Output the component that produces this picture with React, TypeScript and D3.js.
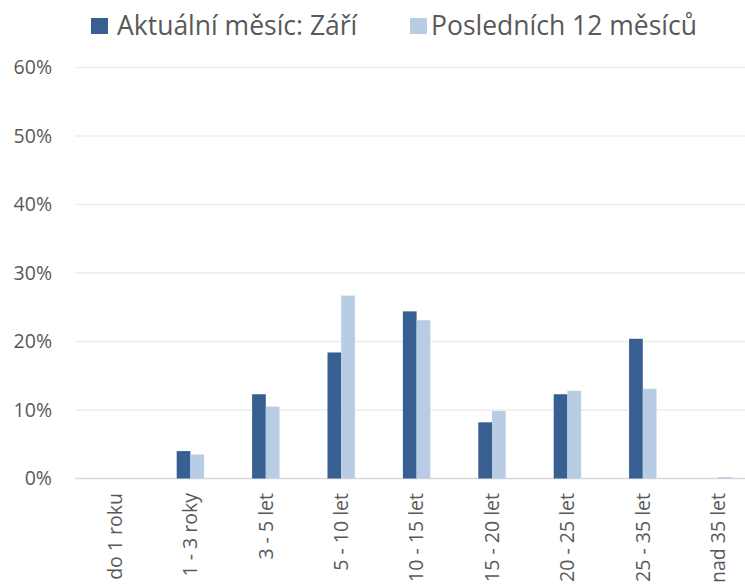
import React from "react";
import * as d3 from "d3";

// věkové kategorie a podíly
const categories = [
  "do 1 roku",
  "1 - 3 roky",
  "3 - 5 let",
  "5 - 10 let",
  "10 - 15 let",
  "15 - 20 let",
  "20 - 25 let",
  "25 - 35 let",
  "nad 35 let",
];
const seriesNames = ["Aktuální měsíc: Září", "Posledních 12 měsíců"];
const currentMonth = [0, 0.04, 0.123, 0.184, 0.244, 0.082, 0.123, 0.204, 0];
const last12Months = [0, 0.035, 0.105, 0.267, 0.231, 0.0985, 0.128, 0.131, 0.002];
const yTicks = [0, 0.1, 0.2, 0.3, 0.4, 0.5, 0.6];

const colors = ["#375f91", "#b8cce4"];
const textColor = "#595959";
const font = "'Open Sans', sans-serif";

const W = 745;
const H = 585;
const margin = { top: 67.5, left: 75, bottom: 106.5 };

const App = () => {
  const x = d3
    .scaleBand<string>()
    .domain(categories)
    .range([77.3, 755.9])
    .paddingInner(0)
    .paddingOuter(0);

  const inner = d3
    .scaleBand<number>()
    .domain([0, 1])
    .range([-13.7, 13.7]);

  const y = d3
    .scaleLinear()
    .domain([0, 0.6])
    .range([H - margin.bottom, margin.top]);

  const fmt = d3.format(".0%");
  const series = [currentMonth, last12Months];

  return (
    <svg
      width={W}
      height={H}
      style={{ position: "absolute", left: 0, top: 0, background: "#fff" }}
      fontFamily={font}
    >
      {/* mřížka a popisky osy y */}
      {yTicks.map((t) => (
        <g key={t}>
          <line
            x1={margin.left}
            x2={W}
            y1={y(t)}
            y2={y(t)}
            stroke={t === 0 ? "#d9d9d9" : "#ececec"}
            strokeWidth={t === 0 ? 1.5 : 1.3}
          />
          <text
            x={52}
            y={y(t)}
            dy="0.35em"
            textAnchor="end"
            fontSize={19.5}
            fill={textColor}
          >
            {fmt(t)}
          </text>
        </g>
      ))}

      {/* sloupce */}
      {categories.map((c, i) => {
        const cx = (x(c) ?? 0) + x.bandwidth() / 2;
        return (
          <g key={c} transform={`translate(${cx},0)`}>
            {series.map((s, k) => (
              <rect
                key={k}
                x={inner(k)}
                y={y(s[i])}
                width={inner.bandwidth()}
                height={y(0) - y(s[i])}
                fill={colors[k]}
              />
            ))}
          </g>
        );
      })}

      {/* popisky kategorií */}
      {categories.map((c) => {
        const cx = (x(c) ?? 0) + x.bandwidth() / 2;
        return (
          <text
            key={c}
            transform={`translate(${cx},493) rotate(-90)`}
            dy="0.35em"
            textAnchor="end"
            fontSize={19.5}
            fill={textColor}
          >
            {c}
          </text>
        );
      })}

      {/* legenda */}
      <g>
        <rect x={91} y={18} width={17} height={16} fill={colors[0]} />
        <text x={117} y={26} dy="0.35em" fontSize={26.5} fill={textColor}>
          {seriesNames[0]}
        </text>
        <rect x={410} y={18} width={17} height={16} fill={colors[1]} />
        <text x={431} y={26} dy="0.35em" fontSize={26.5} fill={textColor}>
          {seriesNames[1]}
        </text>
      </g>
    </svg>
  );
};

export default App;
